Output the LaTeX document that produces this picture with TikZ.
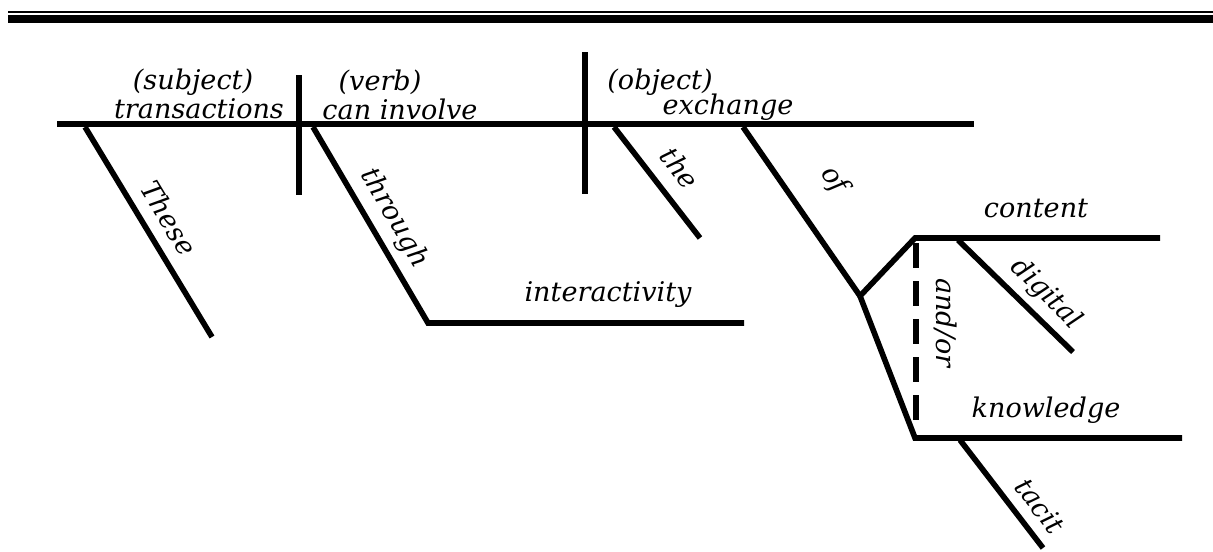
\documentclass[tikz,border=0pt]{standalone}
\usepackage{fontspec}
\setmainfont{DejaVu Serif}
\usepackage{tikz}
\usetikzlibrary{positioning,calc}
\tikzset{
  ln/.style={draw=black,line width=1.6pt},
  bar/.style={draw=black,line width=1.8pt},
  word/.style={font=\fontsize{7.7}{9}\selectfont\itshape,inner sep=1pt},
}
\begin{document}
\begin{tikzpicture}[x=0.01cm,y=-0.01cm]
  \useasboundingbox (0,0) rectangle (1213,551);
  % double rule at the top
  \coordinate (rA) at (8,11.8);  \coordinate (rB) at (1213,11.8);
  \coordinate (rC) at (8,19);    \coordinate (rD) at (1213,19);
  \draw[line width=0.5pt] (rA) -- (rB);
  \draw[line width=2.45pt] (rC) -- (rD);
  % base line and dividers
  \coordinate (bL) at (57,124);  \coordinate (bR) at (974,124);
  \coordinate (d1t) at (299,75); \coordinate (d1b) at (299,195);
  \coordinate (d2t) at (585,52); \coordinate (d2b) at (585,194);
  \draw[bar] (bL) -- (bR);
  \draw[bar] (d1t) -- (d1b);
  \draw[bar] (d2t) -- (d2b);
  \node[word] (subj) at (193,82) {(subject)};
  \node[word] (trans) at (199,109) {transactions};
  \node[word] (verb) at (380,82) {(verb)};
  \node[word] (inv) at (400,109) {can involve};
  \node[word] (obj) at (660,82) {(object)};
  \node[word] (exch) at (728,107) {exchange};
  % modifiers
  \coordinate (thA) at (85,127);   \coordinate (thB) at (212,337);
  \coordinate (trA) at (313,127);  \coordinate (trB) at (428,323); \coordinate (trC) at (744,323);
  \coordinate (teA) at (614,127);  \coordinate (teB) at (700,238);
  \coordinate (ofA) at (743,127);  \coordinate (ofB) at (860,296);
  \draw[ln] (thA) -- (thB);
  \draw[ln] (trA) -- (trB) -- (trC);
  \draw[ln] (teA) -- (teB);
  \draw[ln] (ofA) -- (ofB);
  \node[word,rotate=-59] (lThese) at (169,218) {These};
  \node[word,rotate=-60] (lThrough) at (394,218) {through};
  \node[word,rotate=-53] (lThe) at (680,168) {the};
  \node[word,rotate=-56] (lOf) at (834,180) {of};
  \node[word] (inter) at (608,295) {interactivity};
  % compound object
  \coordinate (coA) at (915,238);  \coordinate (coB) at (1160,238);
  \coordinate (knA) at (915,438);  \coordinate (knB) at (1182,438);
  \draw[ln] (ofB) -- (coA) -- (coB);
  \draw[ln] (ofB) -- (knA) -- (knB);
  \node[word] (cont) at (1036,208) {content};
  \node[word] (know) at (1046,410) {knowledge};
  \coordinate (dsA) at (916,243);  \coordinate (dsB) at (916,421);
  \draw[line width=1.8pt,dash pattern=on 0.25cm off 0.13cm] (dsA) -- (dsB);
  \node[word,rotate=-90] (andor) at (946,323) {and/or};
  \coordinate (dgA) at (958,240);  \coordinate (dgB) at (1073,352);
  \coordinate (tcA) at (960,440);  \coordinate (tcB) at (1043,548);
  \draw[ln] (dgA) -- (dgB);
  \draw[ln] (tcA) -- (tcB);
  \node[word,rotate=-45] (lDig) at (1046,294) {digital};
  \node[word,rotate=-53] (lTacit) at (1040,506) {tacit};
\end{tikzpicture}
\end{document}
